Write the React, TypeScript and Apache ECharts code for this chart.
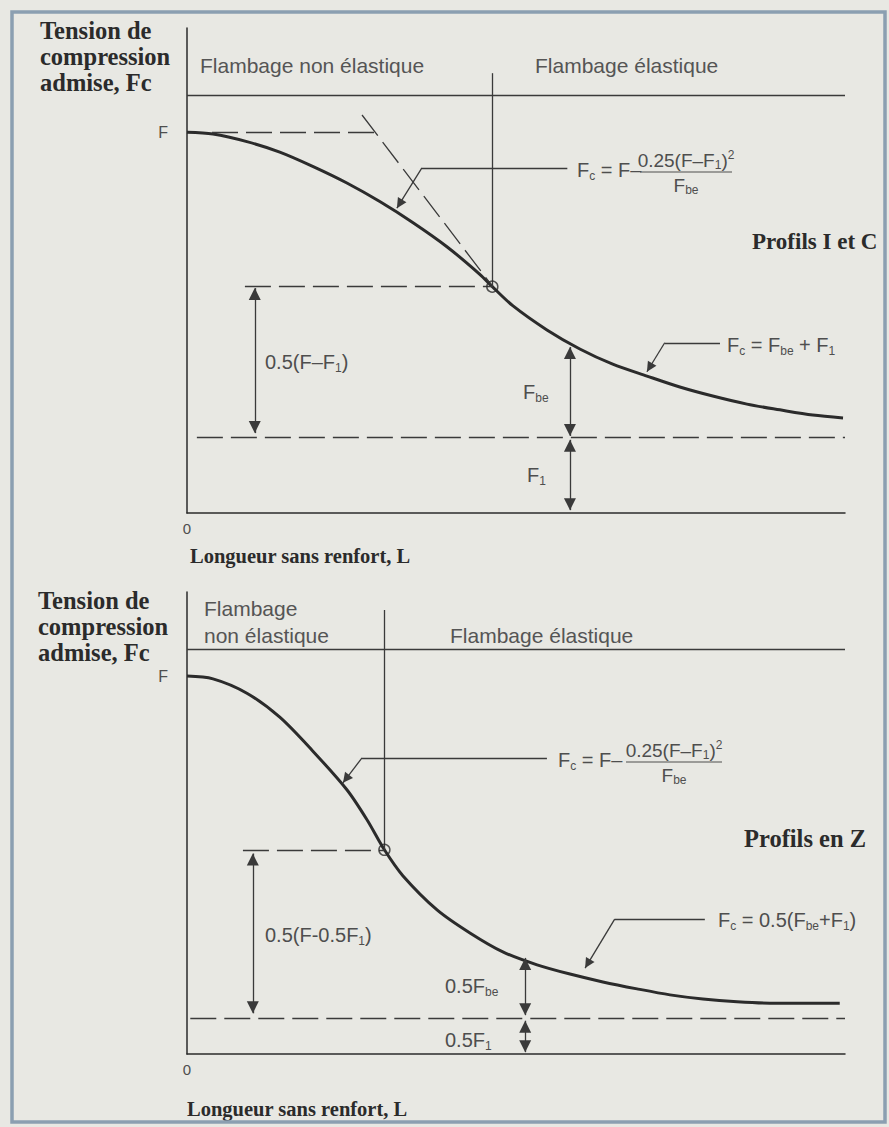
import React, { useEffect, useRef } from "react";
import * as echarts from "echarts";

// ---------- Panel 1 : Profils I et C (x = L in % of axis, y = stress units) ----------
const L_IC = [0, 3.95, 9.1, 14.1, 19.1, 24.3, 29.3, 34.3, 39.5, 44.5, 46.4, 49.5, 54.7, 59.7, 64.7, 69.9, 74.9, 79.9, 85.1, 90.1, 95.1, 99.7];
const FC_IC = [80.1, 79.7, 78.1, 75.9, 72.9, 69.4, 65.5, 61.1, 56.0, 50.2, 47.6, 43.6, 38.5, 34.5, 31.3, 28.8, 26.5, 24.6, 22.9, 21.7, 20.6, 20.0];
const Y_MAX_IC = 102;
const F_IC = 80;
const TRANS_IC = [46.4, 47.6];
const LIMIT_IC = 87.9;
const DIVIDER_TOP_IC = 92.5;
const F_DASH_IC = [[3.8, 80], [29.6, 80]];
const TANGENT_IC = [[26.6, 83.7], [46.3, 47.9]];
const MID_DASH_START_IC = 8.8;
const FT_IC = 16;
const FT_DASH_START_IC = 1.5;
const DIMS_IC = [
  [[10.3, 47.3], [10.3, 16.8]],
  [[58.2, 34.9], [58.2, 16.2]],
  [[58.2, 15.4], [58.2, 0.6]],
];
const LEADERS_IC = [
  [[57.8, 72.6], [35.7, 72.6], [31.9, 64.1]],
  [[81.0, 35.8], [72.6, 35.8], [69.9, 29.7]],
];

// ---------- Panel 2 : Profils en Z ----------
const L_Z = [0, 3.95, 9.1, 14.1, 19.1, 24.3, 27.4, 30.0, 32.8, 38.0, 43.0, 48.0, 53.2, 58.2, 63.2, 68.4, 73.4, 78.4, 83.6, 88.6, 99.2];
const FC_Z = [81.8, 81.2, 78.1, 72.9, 65.6, 57.2, 50.6, 44.2, 38.6, 31.2, 26.2, 22.1, 19.3, 17.3, 15.6, 14.1, 12.8, 11.9, 11.3, 11.0, 11.0];
const Y_MAX_Z = 100;
const F_Z = 81.8;
const TRANS_Z = [30.0, 44.2];
const LIMIT_Z = 87.7;
const DIVIDER_TOP_Z = 96.1;
const MID_DASH_START_Z = 8.5;
const FT_Z = 7.8;
const FT_DASH_START_Z = 0.5;
const DIMS_Z = [
  [[10.0, 43.4], [10.0, 8.8]],
  [[51.4, 20.8], [51.4, 8.4]],
  [[51.4, 7.2], [51.4, 0.4]],
];
const LEADERS_Z = [
  [[54.7, 64.1], [26.6, 64.1], [23.7, 58.7]],
  [[78.7, 29.2], [65.0, 29.2], [60.5, 18.6]],
];

// ---------- styles ----------
const SANS = "'Liberation Sans', Arial, sans-serif";
const SERIF = "'Liberation Serif', 'Times New Roman', serif";
const INK = "#2b2b2b";
const THIN = "#3a3a3a";
const TXT = "#4e4e4e";
const BG = "#e8e8e3";

const RICH: any = {
  m: { fontSize: 20, fontFamily: SANS, fill: TXT, lineHeight: 24 },
  n: { fontSize: 19, fontFamily: SANS, fill: TXT, lineHeight: 22 },
  s: { fontSize: 12, fontFamily: SANS, fill: TXT, lineHeight: 12, verticalAlign: "bottom" },
  p: { fontSize: 12, fontFamily: SANS, fill: TXT, lineHeight: 12, verticalAlign: "top" },
};

const head = (size: number) => ({ symbol: "triangle", symbolSize: size, symbolOffset: [0, size / 2] });
const seg = (a: number[], b: number[], ea: any = {}, eb: any = {}) => [
  { coord: a, symbol: "none", ...ea },
  { coord: b, symbol: "none", ...eb },
];

function markSeries(gi: number, lineStyle: any, data: any[]) {
  return {
    type: "line",
    xAxisIndex: gi,
    yAxisIndex: gi,
    data: [],
    silent: true,
    markLine: {
      silent: true,
      animation: false,
      symbol: ["none", "none"],
      label: { show: false },
      emphasis: { disabled: true },
      lineStyle,
      data,
    },
  };
}

function panelSeries(
  gi: number,
  L: number[],
  FC: number[],
  trans: number[],
  limit: number,
  dividerTop: number,
  dashed: number[][][],
  dims: number[][][],
  leaders: number[][][]
) {
  const solid = { color: THIN, width: 1.3, type: "solid" };
  const dash = { color: THIN, width: 1.3, type: [26, 8] };
  return [
    {
      type: "line",
      xAxisIndex: gi,
      yAxisIndex: gi,
      data: L.map((x, i) => [x, FC[i]]),
      showSymbol: false,
      smooth: 0.3,
      silent: true,
      z: 4,
      lineStyle: { color: INK, width: 3 },
    },
    markSeries(gi, solid, [
      seg([0, limit], [100, limit]),
      seg([trans[0], dividerTop], trans),
    ]),
    markSeries(gi, dash, dashed.map((d) => seg(d[0], d[1]))),
    markSeries(gi, solid, dims.map((d) => seg(d[0], d[1], head(12), head(12)))),
    markSeries(
      gi,
      solid,
      leaders.flatMap((p) => [seg(p[0], p[1]), seg(p[1], p[2], {}, head(10))])
    ),
    {
      type: "scatter",
      xAxisIndex: gi,
      yAxisIndex: gi,
      data: [trans],
      symbol: "circle",
      symbolSize: 11,
      silent: true,
      z: 5,
      itemStyle: { color: "rgba(0,0,0,0)", borderColor: INK, borderWidth: 1.5 },
    },
  ];
}

function axes(gi: number, yMax: number, fLevel: number) {
  const line = { show: true, onZero: false, lineStyle: { color: INK, width: 1.5 } };
  return {
    x: {
      gridIndex: gi,
      type: "value",
      min: 0,
      max: 100,
      interval: 100,
      axisLine: line,
      axisTick: { show: false },
      splitLine: { show: false },
      axisLabel: {
        formatter: (v: number) => (v === 0 ? "0" : ""),
        margin: 8,
        fontSize: 15,
        color: TXT,
        fontFamily: SANS,
      },
    },
    y: {
      gridIndex: gi,
      type: "value",
      min: 0,
      max: yMax,
      interval: fLevel,
      axisLine: line,
      axisTick: { show: false },
      splitLine: { show: false },
      axisLabel: {
        formatter: (v: number) => (Math.abs(v - fLevel) < 1e-6 ? "F" : ""),
        margin: 19,
        fontSize: 16,
        color: TXT,
        fontFamily: SANS,
      },
    },
  };
}

const rtext = (x: number, y: number, text: string, extra: any = {}) => ({
  type: "text",
  x,
  y,
  silent: true,
  style: { text, rich: RICH, fontSize: 20, fontFamily: SANS, fill: TXT, verticalAlign: "middle", align: "left", ...extra },
});

const bold = (x: number, y: number, text: string, size = 22) => ({
  type: "text",
  x,
  y,
  silent: true,
  style: { text, fontSize: size, fontWeight: "bold", fontFamily: SERIF, fill: INK, lineHeight: 26, verticalAlign: "top", align: "left" },
});

const fraction = (x: number, y: number, num: string, den: string, width: number) => ({
  type: "group",
  x,
  y,
  silent: true,
  children: [
    { type: "text", x: width / 2, y: -10, style: { text: num, rich: RICH, align: "center", verticalAlign: "middle", fill: TXT } },
    { type: "line", shape: { x1: 0, y1: 2, x2: width, y2: 2 }, style: { stroke: TXT, lineWidth: 1.2 } },
    { type: "text", x: width / 2, y: 15, style: { text: den, rich: RICH, align: "center", verticalAlign: "middle", fill: TXT } },
  ],
});

function buildOption() {
  const a0 = axes(0, Y_MAX_IC, F_IC);
  const a1 = axes(1, Y_MAX_Z, F_Z);
  const header = { fontSize: 21, fill: "#555" };
  return {
    animation: false,
    backgroundColor: BG,
    grid: [
      { left: 187, right: 44, top: 28, height: 485, outerBoundsMode: "none" },
      { left: 187, right: 44, top: 592, height: 462, outerBoundsMode: "none" },
    ],
    xAxis: [a0.x, a1.x],
    yAxis: [a0.y, a1.y],
    series: [
      ...panelSeries(
        0, L_IC, FC_IC, TRANS_IC, LIMIT_IC, DIVIDER_TOP_IC,
        [F_DASH_IC, TANGENT_IC, [[MID_DASH_START_IC, TRANS_IC[1]], TRANS_IC], [[FT_DASH_START_IC, FT_IC], [100, FT_IC]]],
        DIMS_IC, LEADERS_IC
      ),
      ...panelSeries(
        1, L_Z, FC_Z, TRANS_Z, LIMIT_Z, DIVIDER_TOP_Z,
        [[[MID_DASH_START_Z, TRANS_Z[1]], TRANS_Z], [[FT_DASH_START_Z, FT_Z], [100, FT_Z]]],
        DIMS_Z, LEADERS_Z
      ),
    ],
    graphic: [
      { type: "rect", silent: true, z: 100, shape: { x: 12, y: 12, width: 873, height: 1110 }, style: { fill: "none", stroke: "#8b9fb1", lineWidth: 3.5 } },
      // panel 1
      bold(40, 17, "Tension de\ncompression\nadmise, Fc", 24.5),
      rtext(200, 65, "Flambage non élastique", header),
      rtext(535, 65, "Flambage élastique", header),
      rtext(577, 170, "{m|F}{s|c}{m| = F–}"),
      fraction(640, 170, "{n|0.25(F–F}{s|1}{n|)}{p|2}", "{n|F}{s|be}", 92),
      bold(752, 228, "Profils I et C", 23),
      rtext(265, 362, "{m|0.5(F–F}{s|1}{m|)}"),
      rtext(523, 392, "{m|F}{s|be}"),
      rtext(527, 475, "{m|F}{s|1}"),
      rtext(727, 345, "{m|F}{s|c}{m| = F}{s|be}{m| + F}{s|1}"),
      bold(190, 543, "Longueur sans renfort, L", 20.5),
      // panel 2
      bold(38, 587, "Tension de\ncompression\nadmise, Fc", 24.5),
      rtext(204, 608, "Flambage", header),
      rtext(204, 635, "non élastique", header),
      rtext(450, 635, "Flambage élastique", header),
      rtext(558, 760, "{m|F}{s|c}{m| = F–}"),
      fraction(626, 760, "{n|0.25(F–F}{s|1}{n|)}{p|2}", "{n|F}{s|be}", 96),
      bold(744, 825, "Profils en Z", 24.5),
      rtext(265, 935, "{m|0.5(F-0.5F}{s|1}{m|)}"),
      rtext(445, 986, "{m|0.5F}{s|be}"),
      rtext(445, 1040, "{m|0.5F}{s|1}"),
      rtext(718, 920, "{m|F}{s|c}{m| = 0.5(F}{s|be}{m|+F}{s|1}{m|)}"),
      bold(187, 1096, "Longueur sans renfort, L", 20.5),
    ],
  };
}

export default function App() {
  const ref = useRef<HTMLDivElement>(null);
  useEffect(() => {
    const chart = echarts.init(ref.current!, null, { renderer: "svg" });
    chart.setOption(buildOption() as any);
    return () => chart.dispose();
  }, []);
  return (
    <div
      ref={ref}
      style={{ position: "fixed", left: 0, top: 0, width: 889, height: 1127 }}
    />
  );
}
